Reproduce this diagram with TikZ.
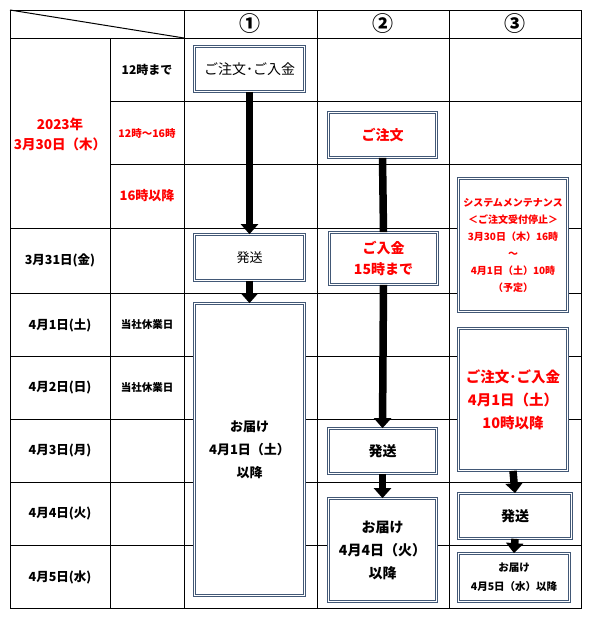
\documentclass[tikz,border=0pt]{standalone}
\usepackage{fontspec}
\setmainfont{Noto Sans CJK JP}
\usepackage{tikz}
\usetikzlibrary{arrows.meta,positioning}
\definecolor{ordRed}{RGB}{255,0,0}
\definecolor{boxC}{RGB}{66,88,118}
\tikzset{
  gridln/.style  = {line width=1pt, black},
  flowbox/.style = {draw=boxC, double=white, double distance=1.3pt,
                    line width=0.7pt, fill=white, align=center, inner sep=1pt},
  lbl/.style     = {align=center, inner sep=0pt, font=\bfseries\fontsize{12.5}{18}\selectfont},
  redlbl/.style  = {lbl, text=ordRed},
  flow/.style    = {line width=7.5pt, -{Triangle[width=17pt,length=10pt]}},
  flowln/.style  = {line width=7.5pt}
}
\begin{document}
\begin{tikzpicture}[x=1pt, y=-1pt]
  \useasboundingbox (0,0) rectangle (591,619);

  %% ── Grid ──────────────────────────────────────────────────────
  \draw[gridln] (10,10) rectangle (581,608);
  \draw[gridln] (10,38) -- (581,38);
  \draw[gridln] (10,10) -- (184,38);
  \foreach \y in {101,164}
    \draw[gridln] (110,\y) -- (581,\y);
  \foreach \y in {228,293,356,419,482,545}
    \draw[gridln] (10,\y) -- (581,\y);
  \draw[gridln] (110,38) -- (110,608);
  \foreach \x in {184,317,449}
    \draw[gridln] (\x,10) -- (\x,608);

  %% ── Header ────────────────────────────────────────────────────
  \node[lbl, font=\bfseries\fontsize{21}{24}\selectfont] (hd1) at (250,24) {①};
  \node[lbl, font=\bfseries\fontsize{21}{24}\selectfont] (hd2) at (383,24) {②};
  \node[lbl, font=\bfseries\fontsize{21}{24}\selectfont] (hd3) at (515,24) {③};

  %% ── Date column ───────────────────────────────────────────────
  \node[redlbl, font=\bfseries\fontsize{13.5}{20}\selectfont] (d0330) at (60,134)
    {2023年\\3月30日（木）};
  \node[lbl, font=\bfseries\fontsize{12}{16}\selectfont] (t12) at (147,70) {12時まで};
  \node[redlbl, font=\bfseries\fontsize{10.5}{14}\selectfont] (t1216) at (147,133) {12時～16時};
  \node[redlbl, font=\bfseries\fontsize{13}{18}\selectfont] (t16) at (147,196) {16時以降};
  \node[lbl] (d0331) at (60,260) {3月31日(金)};
  \node[lbl] (d0401) at (60,325) {4月1日(土)};
  \node[lbl] (d0402) at (60,388) {4月2日(日)};
  \node[lbl] (d0403) at (60,451) {4月3日(月)};
  \node[lbl] (d0404) at (60,514) {4月4日(火)};
  \node[lbl] (d0405) at (60,577) {4月5日(水)};
  \node[lbl, font=\bfseries\fontsize{10.5}{14}\selectfont] (hol1) at (147,325) {当社休業日};
  \node[lbl, font=\bfseries\fontsize{10.5}{14}\selectfont] (hol2) at (147,388) {当社休業日};

  %% ── Column 1 ──────────────────────────────────────────────────
  \node[flowbox, minimum width=110pt, minimum height=45pt,
        font=\fontsize{14}{18}\selectfont] (ord1) at (249.5,69) {ご注文･ご入金};
  \node[flowbox, minimum width=110pt, minimum height=46pt,
        font=\fontsize{13}{18}\selectfont] (shp1) at (249.5,257.5) {発送};
  \node[flowbox, minimum width=110pt, minimum height=292pt,
        font=\bfseries\fontsize{13}{23}\selectfont] (dlv1) at (249.5,449.5)
    {お届け\\4月1日（土）\\以降};

  %% ── Column 2 ──────────────────────────────────────────────────
  \node[flowbox, minimum width=108pt, minimum height=45pt, text=ordRed,
        font=\bfseries\fontsize{14}{18}\selectfont] (ord2) at (382.5,135) {ご注文};
  \node[flowbox, minimum width=108pt, minimum height=52pt, text=ordRed,
        font=\bfseries\fontsize{14}{21}\selectfont] (pay2) at (383.5,258.5)
    {ご入金\\15時まで};
  \node[flowbox, minimum width=108pt, minimum height=45pt,
        font=\bfseries\fontsize{14}{18}\selectfont] (shp2) at (382.5,451) {発送};
  \node[flowbox, minimum width=108pt, minimum height=103pt,
        font=\bfseries\fontsize{14}{23}\selectfont] (dlv2) at (382.5,550)
    {お届け\\4月4日（火）\\以降};

  %% ── Column 3 ──────────────────────────────────────────────────
  \node[flowbox, minimum width=109pt, minimum height=133pt, text=ordRed,
        font=\bfseries\fontsize{10}{17}\selectfont] (mnt3) at (513,245)
    {システムメンテナンス\\＜ご注文受付停止＞\\3月30日（木）16時\\～\\4月1日（土）10時\\（予定）};
  \node[flowbox, minimum width=109pt, minimum height=142pt, text=ordRed,
        font=\bfseries\fontsize{14.5}{23}\selectfont] (ord3) at (513,399.5)
    {ご注文･ご入金\\4月1日（土）\\10時以降};
  \node[flowbox, minimum width=113pt, minimum height=45pt,
        font=\bfseries\fontsize{14}{18}\selectfont] (shp3) at (515,516) {発送};
  \node[flowbox, minimum width=111pt, minimum height=48pt,
        font=\bfseries\fontsize{10.5}{19}\selectfont] (dlv3) at (514,577.5)
    {お届け\\4月5日（水）以降};

  %% ── Arrows ────────────────────────────────────────────────────
  \draw[flow] (ord1.south) -- (shp1.north);
  \draw[flow] (shp1.south) -- (dlv1.north);
  \draw[flowln] (ord2.south) -- (pay2.north);
  \draw[flow] (pay2.south) -- (shp2.north);
  \draw[flow] (shp2.south) -- (dlv2.north);
  \draw[flow] (ord3.south) -- (shp3.north);
  \draw[flow] (shp3.south) -- (dlv3.north);

\end{tikzpicture}
\end{document}
